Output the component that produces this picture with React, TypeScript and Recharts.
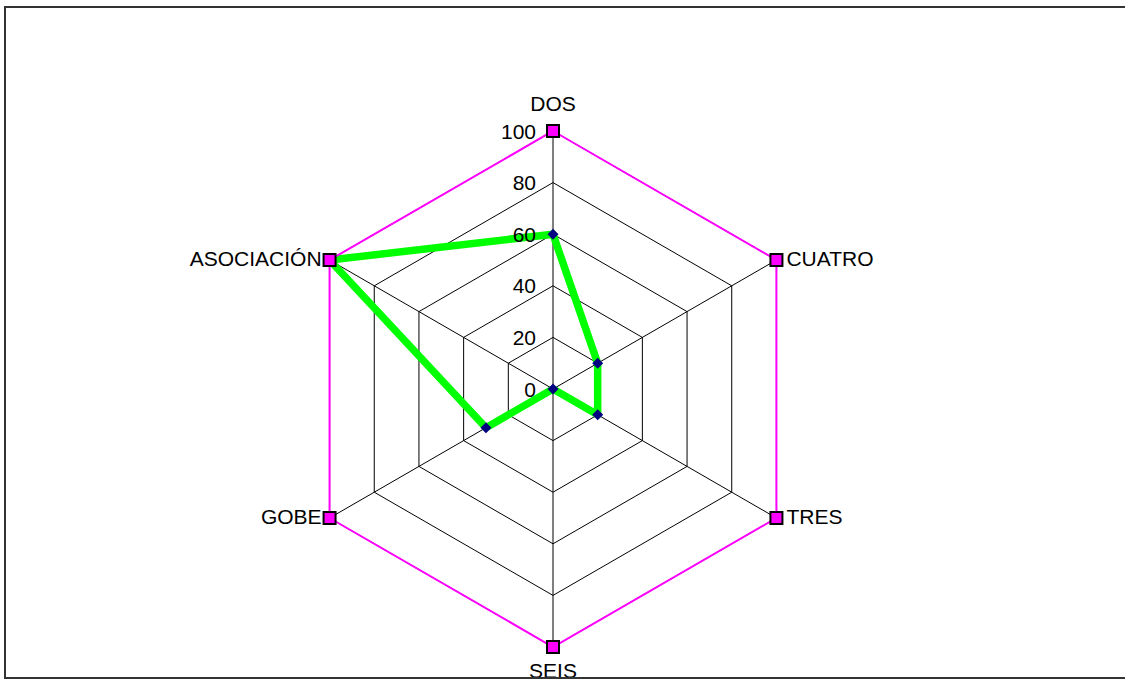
import React from "react";
import { RadarChart, Radar, PolarGrid, PolarAngleAxis, PolarRadiusAxis } from "recharts";

const categories = ["DOS", "CUATRO", "TRES", "SEIS", "GOBE", "ASOCIACIÓN"];
const outerValues = [100, 100, 100, 100, 100, 100];
const greenValues = [60, 20, 20, 0, 30, 100];
const radiusTicks = [0, 20, 40, 60, 80, 100];

const data = categories.map((c, i) => ({ name: c, outer: outerValues[i], green: greenValues[i] }));

const W = 1125;
const H = 679;
const CX = 553;
const CY = 389;
const R = 258;
const FONT = "'Liberation Sans', Arial, sans-serif";
const FS = 21;

const AngleTick = (props: any) => {
  const value = props.payload?.value;
  const i = categories.indexOf(value);
  const ang = ((90 - i * 60) * Math.PI) / 180;
  const vx = CX + R * Math.cos(ang);
  const vy = CY - R * Math.sin(ang);
  let x = vx;
  let y = vy;
  let anchor: any = "middle";
  const c = Math.cos(ang);
  if (Math.abs(c) < 0.01) {
    y = Math.sin(ang) > 0 ? vy - 28 : vy + 23;
  } else if (c > 0) {
    x = vx + 10;
    anchor = "start";
    y = vy - 2;
  } else {
    x = vx - 8;
    anchor = "end";
    y = vy - 2;
  }
  return (
    <text x={x} y={y} textAnchor={anchor} dominantBaseline="central" fontSize={FS} fontFamily={FONT} fill="#000">
      {value}
    </text>
  );
};

const RadiusTick = (props: any) => {
  const { y, payload } = props;
  return (
    <text x={CX - 17} y={y} textAnchor="end" dominantBaseline="central" fontSize={FS} fontFamily={FONT} fill="#000">
      {payload.value}
    </text>
  );
};

const SquareDot = (props: any) => {
  const { cx, cy, index } = props;
  return <rect key={`sq-${index}`} x={cx - 6} y={cy - 6} width={12} height={12} fill="#ff00ff" stroke="#000" strokeWidth={2} />;
};

const DiamondDot = (props: any) => {
  const { cx, cy, index } = props;
  const s = 5.5;
  return (
    <polygon
      key={`dm-${index}`}
      points={`${cx},${cy - s} ${cx + s},${cy} ${cx},${cy + s} ${cx - s},${cy}`}
      fill="#000080"
      stroke="none"
    />
  );
};

export default function App() {
  return (
    <div style={{ position: "absolute", left: 0, top: 0, width: W, height: H, overflow: "hidden", background: "#fff" }}>
      <div style={{ position: "absolute", left: 0, top: 0 }}>
        <RadarChart width={W} height={H} data={data} cx={CX} cy={CY} outerRadius={R} startAngle={90} endAngle={-270} margin={{ top: 0, right: 0, bottom: 0, left: 0 }}>
          <PolarGrid gridType="polygon" stroke="#000" strokeOpacity={1} strokeWidth={1} />
          <PolarAngleAxis dataKey="name" tick={AngleTick} tickLine={false} axisLine={false} />
          <PolarRadiusAxis
            angle={90}
            domain={[0, 100]}
            ticks={radiusTicks as any}
            tickCount={6}
            tick={RadiusTick}
            axisLine={false}
            tickLine={false}
          />
          <Radar dataKey="green" stroke="#00ff00" strokeWidth={7.5} fill="none" fillOpacity={0} dot={DiamondDot} isAnimationActive={false} strokeLinejoin="round" />
          <Radar dataKey="outer" stroke="#ff00ff" strokeWidth={2} fill="none" fillOpacity={0} dot={SquareDot} isAnimationActive={false} />
        </RadarChart>
      </div>
      <div
        style={{
          position: "absolute",
          left: 4,
          top: 6,
          width: 1400,
          height: 669,
          border: "2px solid #333",
          pointerEvents: "none",
        }}
      />
    </div>
  );
}
